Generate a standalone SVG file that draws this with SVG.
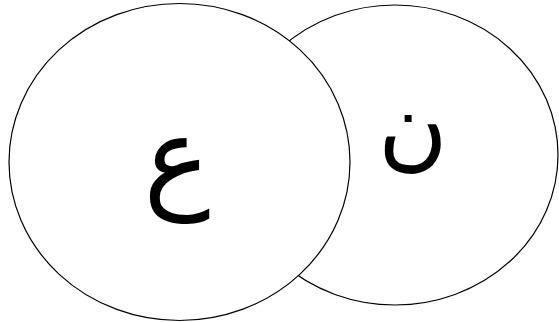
<svg xmlns="http://www.w3.org/2000/svg" width="559" height="322" viewBox="0 0 559 322">
<style>
.c{fill:#fff;stroke:#000;stroke-width:1.2}
.t{font-family:"Liberation Serif","DejaVu Sans",serif;fill:#000;text-anchor:middle}
</style>
<g id="node-n">
<ellipse class="c" cx="395" cy="155" rx="163" ry="150"/>
<text class="t" x="413" y="159" font-size="95">ن</text>
</g>
<g id="node-ain">
<ellipse class="c" cx="179.5" cy="162" rx="170.5" ry="158.5"/>
<text class="t" x="177" y="197" font-size="112">ع</text>
</g>
<g id="connectors"/>
</svg>
